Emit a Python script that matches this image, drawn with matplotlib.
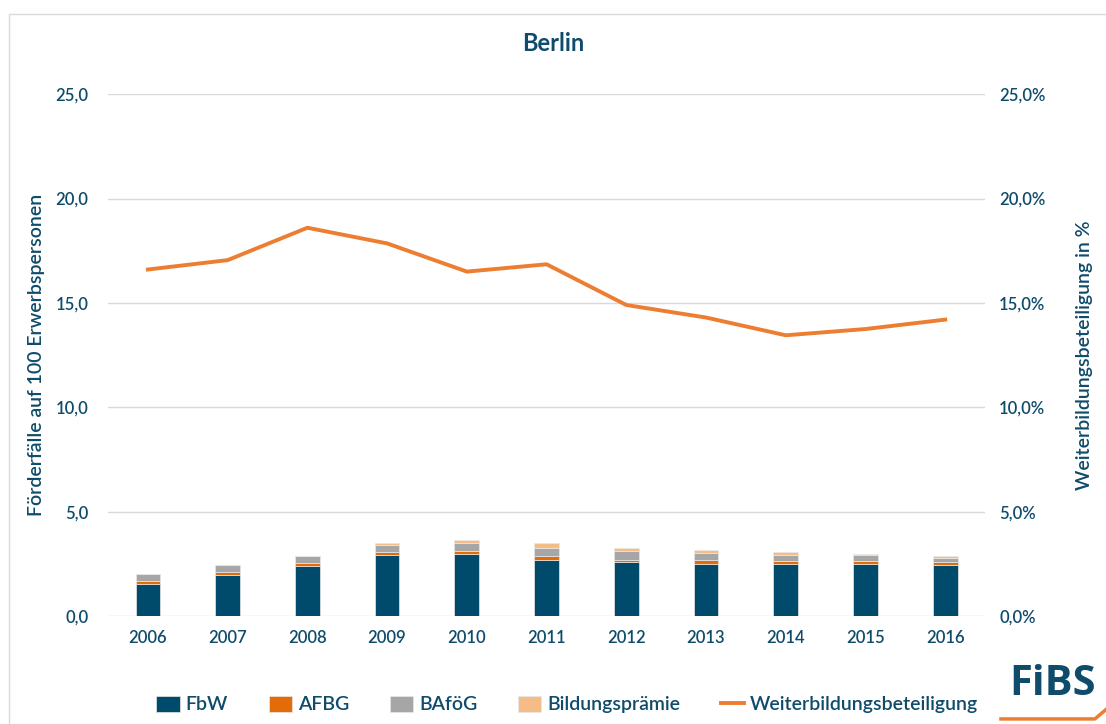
import matplotlib.pyplot as plt
import numpy as np
from matplotlib.ticker import FuncFormatter
from matplotlib.patches import Rectangle
from matplotlib.lines import Line2D

plt.rcParams["font.family"] = ["Lato", "DejaVu Sans"]

years = ["2006", "2007", "2008", "2009", "2010", "2011", "2012", "2013", "2014", "2015", "2016"]
fbw = [1.56, 1.95, 2.38, 2.93, 2.99, 2.70, 2.57, 2.52, 2.49, 2.49, 2.47]
afbg = [0.10, 0.14, 0.16, 0.12, 0.14, 0.16, 0.13, 0.15, 0.15, 0.15, 0.10]
bafoeg = [0.35, 0.34, 0.34, 0.38, 0.37, 0.38, 0.40, 0.35, 0.31, 0.29, 0.23]
praemie = [0.02, 0.00, 0.00, 0.05, 0.16, 0.28, 0.18, 0.15, 0.10, 0.06, 0.09]
beteiligung = [16.6, 17.05, 18.6, 17.85, 16.5, 16.85, 14.9, 14.3, 13.45, 13.75, 14.2]

TXT = "#0F4C6B"
C_FBW = "#004B6B"
C_AFBG = "#E36C09"
C_BAF = "#A6A6A6"
C_PRA = "#F4BC86"
C_LINE = "#ED7D31"

fig = plt.figure(figsize=(11.06, 7.24), dpi=100)
ax = fig.add_axes([0.0977, 0.149, 0.793, 0.721])

x = np.arange(len(years))
w = 0.31
bottom = np.zeros(len(years))
for vals, col, lab in [(fbw, C_FBW, "FbW"), (afbg, C_AFBG, "AFBG"),
                       (bafoeg, C_BAF, "BAföG"), (praemie, C_PRA, "Bildungsprämie")]:
    ax.bar(x, vals, w, bottom=bottom, color=col, label=lab, zorder=3,
           edgecolor="#E8E8E8", linewidth=0.5)
    bottom += np.array(vals)

ax.set_ylim(0, 25)
ax.set_xlim(-0.5, len(years) - 0.5)
ax.set_yticks(np.arange(0, 26, 5))
ax.yaxis.set_major_formatter(FuncFormatter(lambda v, p: f"{v:.1f}".replace(".", ",")))
ax.set_xticks(x)
ax.set_xticklabels(years)
ax.grid(axis="y", color="#D9D9D9", linewidth=1, zorder=0)
for s in ax.spines.values():
    s.set_visible(False)
ax.tick_params(length=0, colors=TXT, labelsize=12, pad=14)
ax.tick_params(axis="x", pad=10)
for t in ax.get_xticklabels() + ax.get_yticklabels():
    t.set_fontweight("semibold")
ax.set_ylabel("Förderfälle auf 100 Erwerbspersonen", color=TXT, fontsize=14,
              labelpad=8, fontweight="semibold")

ax2 = ax.twinx()
ax2.set_position(ax.get_position())
ax2.plot(x, beteiligung, color=C_LINE, linewidth=2.8, label="Weiterbildungsbeteiligung", zorder=4)
ax2.set_ylim(0, 25)
ax2.set_yticks(np.arange(0, 26, 5))
ax2.yaxis.set_major_formatter(FuncFormatter(lambda v, p: f"{v:.1f}%".replace(".", ",")))
for s in ax2.spines.values():
    s.set_visible(False)
ax2.tick_params(length=0, colors=TXT, labelsize=12, pad=10)
for t in ax2.get_yticklabels():
    t.set_fontweight("semibold")
ax2.set_ylabel("Weiterbildungsbeteiligung in %", color=TXT, fontsize=14,
               labelpad=22, fontweight="semibold")

fig.text(0.5, 0.94, "Berlin", ha="center", va="center", color=TXT, fontsize=17, fontweight="bold")

h1, l1 = ax.get_legend_handles_labels()
h2, l2 = ax2.get_legend_handles_labels()
leg = fig.legend(h1 + h2, l1 + l2, loc="center", bbox_to_anchor=(0.513, 0.027), ncol=5,
                 frameon=False, fontsize=14, labelcolor=TXT, handlelength=1.2, handleheight=0.9,
                 handletextpad=0.3, columnspacing=2.1)
for t in leg.get_texts():
    t.set_fontweight("semibold")

# frame around the chart
fig.add_artist(Rectangle((0.008, -0.1), 1.2, 1.081, transform=fig.transFigure,
                         fill=False, edgecolor="#D9D9D9", linewidth=1))

# FiBS logo
fig.text(0.952, 0.055, "FiBS", ha="center", va="center", color=TXT, fontsize=30,
         fontweight="bold", family=["Open Sans", "DejaVu Sans"])
fig.add_artist(Line2D([0.905, 0.99, 1.0], [0.007, 0.007, 0.02], transform=fig.transFigure,
                      color=C_LINE, linewidth=2.5))

fig.savefig("out.png", dpi=100)
